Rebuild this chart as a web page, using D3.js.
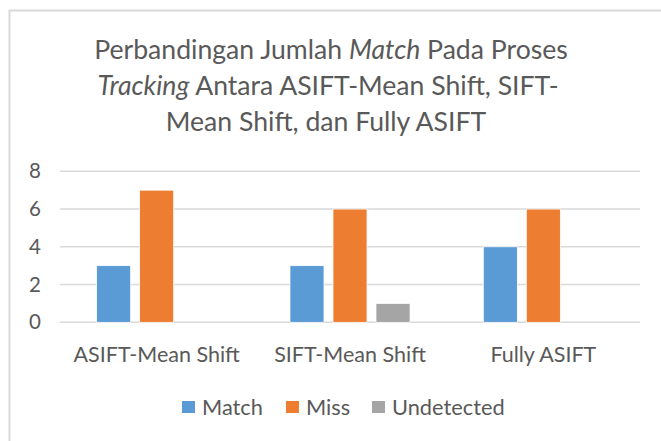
<!DOCTYPE html>
<html>
<head>
<meta charset="utf-8">
<script src="https://cdn.jsdelivr.net/npm/d3@7"></script>
<style>
  body { margin: 0; background: #fff; }
  text { font-family: Lato, "Open Sans", sans-serif; fill: #595959; }
</style>
</head>
<body>
<div id="the_chart"></div>
<script>
var categories = ["ASIFT-Mean Shift", "SIFT-Mean Shift", "Fully ASIFT"];
var series = ["Match", "Miss", "Undetected"];
var match = [3, 3, 4];
var miss = [7, 6, 6];
var undetected = [0, 1, 0];
var yticks = [0, 2, 4, 6, 8];
var colors = ["#5b9bd5", "#ed7d31", "#a5a5a5"];

var w = 661, h = 441;
var svg = d3.select("#the_chart").append("svg")
            .attr("width", w).attr("height", h);

// chart border (cut off at the right and bottom like the screenshot)
svg.append("rect")
   .attr("x", 9.5).attr("y", 10.5)
   .attr("width", 700).attr("height", 500)
   .attr("fill", "none").attr("stroke", "#d9d9d9").attr("stroke-width", 2);

// title
var title = svg.append("text").attr("text-anchor", "middle").style("font-size", "26.6px");
var l1 = title.append("tspan").attr("x", 331).attr("y", 59);
l1.append("tspan").text("Perbandingan Jumlah ");
l1.append("tspan").style("font-style", "italic").text("Match");
l1.append("tspan").text(" Pada Proses");
var l2 = title.append("tspan").attr("x", 328).attr("y", 95);
l2.append("tspan").style("font-style", "italic").text("Tracking");
l2.append("tspan").text(" Antara ASIFT-Mean Shift, SIFT-");
title.append("tspan").attr("x", 326).attr("y", 131).text("Mean Shift, dan Fully ASIFT");

var y = d3.scaleLinear().domain([0, 8]).range([322.3, 171.3]);
var x0 = d3.scaleBand().domain(categories).range([60, 640]);
var x1 = d3.scaleBand().domain(series).range([0, x0.bandwidth()])
           .paddingInner(0.209).paddingOuter(0.852);

// gridlines
svg.append("g").selectAll("line")
   .data(yticks).enter().append("line")
   .attr("x1", 60).attr("x2", 640)
   .attr("y1", function(d){ return y(d); })
   .attr("y2", function(d){ return y(d); })
   .attr("stroke", "#d9d9d9").attr("stroke-width", 1.5);

// y axis labels
var yaxis = d3.axisLeft(y).tickValues(yticks).tickSize(0).tickPadding(0);
var yg = svg.append("g").attr("transform", "translate(41,0)").call(yaxis);
yg.select(".domain").remove();
yg.selectAll("text").style("font-size", "20.5px").attr("fill", "#595959")
  .style("font-family", "Lato, 'Open Sans', sans-serif");

// x axis labels
var xaxis = d3.axisBottom(x0).tickSize(0).tickPadding(0);
var xg = svg.append("g").attr("transform", "translate(0,346.5)").call(xaxis);
xg.select(".domain").remove();
xg.selectAll("text").style("font-size", "21.5px").attr("fill", "#595959")
  .style("font-family", "Lato, 'Open Sans', sans-serif");

// bars
var table = categories.map(function(c, i){
  return { cat: c, values: [match[i], miss[i], undetected[i]] };
});
var groups = svg.append("g").selectAll("g")
   .data(table).enter().append("g")
   .attr("transform", function(d){ return "translate(" + x0(d.cat) + ",0)"; });
groups.selectAll("rect")
   .data(function(d){ return d.values.map(function(v, j){ return { s: series[j], v: v, c: colors[j] }; }); })
   .enter().filter(function(d){ return d.v > 0; }).append("rect")
   .attr("x", function(d){ return x1(d.s); })
   .attr("width", x1.bandwidth())
   .attr("y", function(d){ return y(d.v); })
   .attr("height", function(d){ return y(0) - y(d.v); })
   .attr("fill", function(d){ return d.c; })
   .attr("stroke", "#fff").attr("stroke-width", 0.75);

// legend
var legX = [182, 286, 372];
var leg = svg.append("g").selectAll("g")
   .data(series).enter().append("g")
   .attr("transform", function(d, i){ return "translate(" + legX[i] + ",401)"; });
leg.append("rect").attr("width", 13).attr("height", 12)
   .attr("fill", function(d, i){ return colors[i]; });
leg.append("text").attr("x", 20).attr("y", 14)
   .style("font-size", "21.8px").text(function(d){ return d; });
</script>
</body>
</html>
